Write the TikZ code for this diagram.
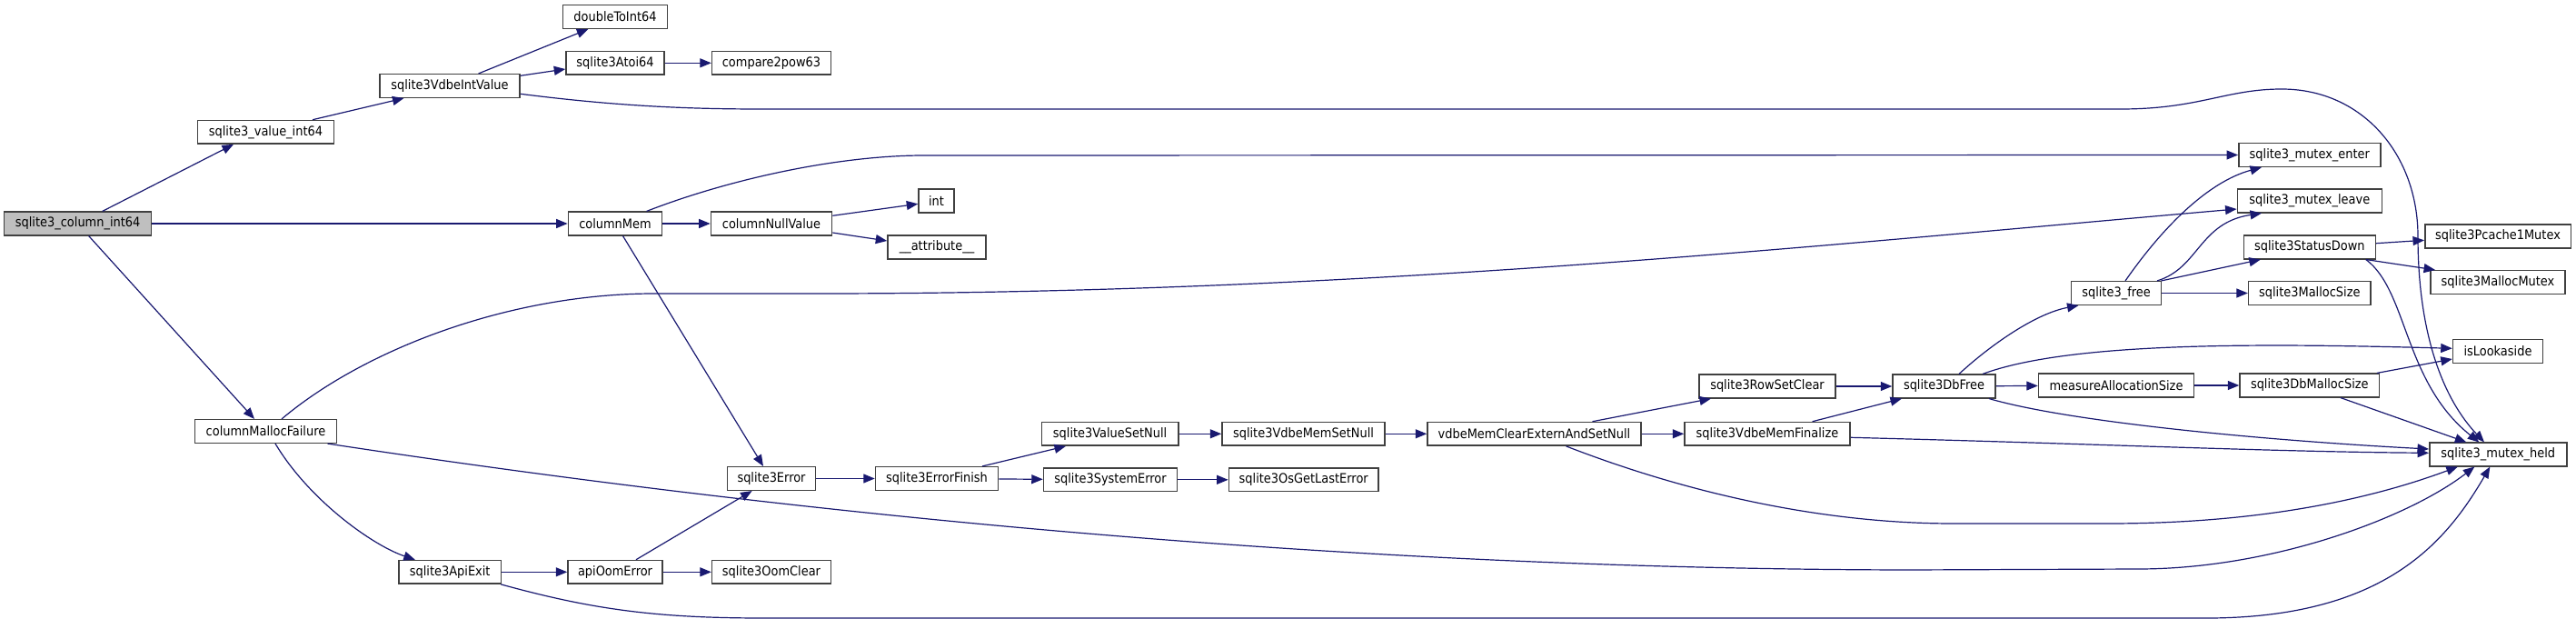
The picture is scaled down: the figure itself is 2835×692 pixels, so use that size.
\documentclass[tikz,border=0pt]{standalone}
\usepackage{fontspec}
\setmainfont{DejaVu Sans Condensed}
\usetikzlibrary{arrows.meta}
\definecolor{edgeblue}{HTML}{191970}
\definecolor{rootgray}{HTML}{BFBFBF}
\definecolor{boxline}{HTML}{404040}
\newcommand{\nodefont}{\fontsize{14.4}{17}\selectfont}
\begin{document}
\begin{tikzpicture}[x=1pt,y=-1pt,
  fn/.style={draw=boxline, line width=1.5pt, fill=white, rectangle, inner sep=0pt, minimum height=25.6pt, font=\nodefont},
  root/.style={fn, fill=rootgray},
  ed/.style={draw=edgeblue, line width=1.2pt, -{Triangle[length=12.5pt,width=10pt]}}]
\useasboundingbox (0,0) rectangle (2835,692);
% nodes
\node[root, minimum width=162.1pt] (col) at (85.65,246) {sqlite3\_column\_int64};
\node[fn, minimum width=149.7pt] (val) at (292.5,145.3) {sqlite3\_value\_int64};
\node[fn, minimum width=154pt] (vdi) at (495,94.5) {sqlite3VdbeIntValue};
\node[fn, minimum width=115pt] (dti) at (677,18.5) {doubleToInt64};
\node[fn, minimum width=108pt] (ato) at (677,69.3) {sqlite3Atoi64};
\node[fn, minimum width=130.8pt] (cmp) at (849,69.3) {compare2pow63};
\node[fn, minimum width=103.2pt] (cm) at (677,246) {columnMem};
\node[fn, minimum width=133.2pt] (cnv) at (849,246) {columnNullValue};
\node[fn, minimum width=39pt] (int) at (1030.5,221) {int};
\node[fn, minimum width=108pt] (attr) at (1031,272) {\_\_attribute\_\_};
\node[fn, minimum width=156pt] (cmf) at (292.5,474.5) {columnMallocFailure};
\node[fn, minimum width=112.4pt] (api) at (495.2,629.3) {sqlite3ApiExit};
\node[fn, minimum width=104pt] (aoe) at (677,629.3) {apiOomError};
\node[fn, minimum width=130.8pt] (ooc) at (849,629.3) {sqlite3OomClear};
\node[fn, minimum width=97.4pt] (err) at (849,526.5) {sqlite3Error};
\node[fn, minimum width=135pt] (erf) at (1031,526.5) {sqlite3ErrorFinish};
\node[fn, minimum width=150.6pt] (vsn) at (1221.6,477.3) {sqlite3ValueSetNull};
\node[fn, minimum width=147pt] (sse) at (1222,527.8) {sqlite3SystemError};
\node[fn, minimum width=179pt] (vms) at (1434.5,477.3) {sqlite3VdbeMemSetNull};
\node[fn, minimum width=164.6pt] (ogl) at (1434.7,527.8) {sqlite3OsGetLastError};
\node[fn, minimum width=235pt] (vmc) at (1688.5,477.3) {vdbeMemClearExternAndSetNull};
\node[fn, minimum width=150pt] (rsc) at (1945,425) {sqlite3RowSetClear};
\node[fn, minimum width=182pt] (vmf) at (1945,477.3) {sqlite3VdbeMemFinalize};
\node[fn, minimum width=113pt] (dbf) at (2139.5,425) {sqlite3DbFree};
\node[fn, minimum width=171pt] (mas) at (2329,424) {measureAllocationSize};
\node[fn, minimum width=153.5pt] (dms) at (2541.8,424) {sqlite3DbMallocSize};
\node[fn, minimum width=99pt] (isl) at (2749,386.5) {isLookaside};
\node[fn, minimum width=151pt] (mh) at (2749.3,500) {sqlite3\_mutex\_held};
\node[fn, minimum width=156pt] (men) at (2541.8,170.5) {sqlite3\_mutex\_enter};
\node[fn, minimum width=159pt] (mle) at (2541.8,221) {sqlite3\_mutex\_leave};
\node[fn, minimum width=145pt] (sd) at (2541.8,272) {sqlite3StatusDown};
\node[fn, minimum width=134.4pt] (ms) at (2541.8,322.5) {sqlite3MallocSize};
\node[fn, minimum width=99pt] (fr) at (2329,322.5) {sqlite3\_free};
\node[fn, minimum width=160.5pt] (pcm) at (2749,260) {sqlite3Pcache1Mutex};
\node[fn, minimum width=148.4pt] (mmx) at (2749,310.5) {sqlite3MallocMutex};
% edges
\draw[ed] ([xshift=27pt]col.north) -- ([xshift=-35.5pt]val.south);
\draw[ed] (col) -- (cm);
\draw[ed] ([xshift=12pt]col.south) -- ([xshift=-12.5pt]cmf.north);
\draw[ed] ([xshift=51.5pt]val.north) -- ([xshift=-50.5pt]vdi.south);
\draw[ed] ([xshift=31.6pt]vdi.north) -- ([xshift=-29.6pt]dti.south);
\draw[ed] ([yshift=11.2pt]vdi.east) -- ([yshift=-6.7pt]ato.west);
\draw[ed] ([yshift=-8.8pt]vdi.east) .. controls (680,117) and (760,120) .. (838,120) -- (2334,120) .. controls (2420,120) and (2450,98) .. (2511,98) .. controls (2600,98) and (2661,170) .. (2661,260) .. controls (2661,370) and (2690,440) .. ([xshift=-15.3pt]mh.north);
\draw[ed] (ato) -- (cmp);
\draw[ed] (cm) -- (cnv);
\draw[ed] ([xshift=34.5pt]cm.north) .. controls (800,198) and (920,171) .. (1017,171) -- (men.west);
\draw[ed] ([xshift=8.5pt]cm.south) -- ([xshift=-9pt]err.north);
\draw[ed] ([yshift=8.7pt]cnv.east) -- ([yshift=-3.3pt]int.west);
\draw[ed] ([yshift=-10pt]cnv.east) -- ([yshift=7pt]attr.west);
\draw[ed] ([xshift=17.5pt]cmf.north) .. controls (400,385) and (560,323) .. (720,323) -- (900,323) .. controls (1500,323) and (2000,270) .. ([yshift=-9pt]mle.west);
\draw[ed] ([xshift=68pt]cmf.south) .. controls (900,570) and (1500,626) .. (2100,627) -- (2353,626) .. controls (2500,626) and (2650,570) .. ([xshift=-26pt]mh.south);
\draw[ed] ([xshift=10.5pt]cmf.south) .. controls (340,550) and (410,600) .. ([xshift=-38.4pt]api.north);
\draw[ed] (api) -- (aoe);
\draw[ed] ([xshift=56pt]api.south) .. controls (650,670) and (720,680) .. (840,680) -- (2420,680) .. controls (2620,682) and (2690,600) .. ([xshift=-9pt]mh.south);
\draw[ed] ([xshift=23pt]aoe.north) -- ([xshift=-21.4pt]err.south);
\draw[ed] (aoe) -- (ooc);
\draw[ed] (err) -- (erf);
\draw[ed] ([xshift=50pt]erf.north) -- ([xshift=-48.6pt]vsn.south);
\draw[ed] (erf) -- (sse);
\draw[ed] (vsn) -- (vms);
\draw[ed] (sse) -- (ogl);
\draw[ed] (vms) -- (vmc);
\draw[ed] ([xshift=64pt]vmc.north) -- ([xshift=-62pt]rsc.south);
\draw[ed] (vmc) -- (vmf);
\draw[ed] ([xshift=35pt]vmc.south) .. controls (1850,540) and (2000,576) .. (2150,576) -- (2320,576) .. controls (2500,576) and (2620,545) .. ([xshift=-44.5pt]mh.south);
\draw[ed] (rsc) -- (dbf);
\draw[ed] ([xshift=49.6pt]vmf.north) -- ([xshift=-46.5pt]dbf.south);
\draw[ed] ([yshift=-4pt]vmf.east) .. controls (2300,488) and (2500,497) .. ([yshift=1.7pt]mh.west);
\draw[ed] ([xshift=16.5pt]dbf.north) .. controls (2190,380) and (2240,345) .. ([xshift=-41.5pt]fr.south);
\draw[ed] ([xshift=42.5pt]dbf.north) .. controls (2280,375) and (2500,378) .. ([yshift=3.2pt]isl.west);
\draw[ed] (dbf) -- (mas);
\draw[ed] ([xshift=49.5pt]dbf.south) .. controls (2280,465) and (2500,485) .. ([yshift=6pt]mh.west);
\draw[ed] (mas) -- (dms);
\draw[ed] ([xshift=74pt]dms.north) -- ([yshift=-8.5pt]isl.west);
\draw[ed] ([xshift=34pt]dms.south) -- ([xshift=-35pt]mh.north);
\draw[ed] ([xshift=10pt]fr.north) .. controls (2380,250) and (2430,200) .. ([xshift=-52.8pt]men.south);
\draw[ed] ([xshift=45pt]fr.north) .. controls (2420,295) and (2420,245) .. ([xshift=-52.8pt]mle.south);
\draw[ed] ([xshift=49.5pt]fr.north) -- ([xshift=-54pt]sd.south);
\draw[ed] (fr) -- (ms);
\draw[ed] ([yshift=4.3pt]sd.east) -- ([yshift=-4.3pt]pcm.west);
\draw[ed] ([xshift=62pt]sd.south) -- ([xshift=6pt]mmx.north west);
\draw[ed] ([xshift=62pt]sd.south) .. controls (2650,320) and (2645,420) .. ([xshift=-21pt]mh.north);
\end{tikzpicture}
\end{document}
